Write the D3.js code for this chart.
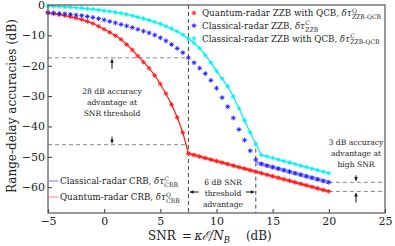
<!DOCTYPE html>
<html>
<head>
<meta charset="utf-8">
<script src="https://cdn.jsdelivr.net/npm/d3@7"></script>
<style>
  body { margin: 0; background: #fff; }
  text { font-family: "DejaVu Serif", "Liberation Serif", serif; fill: #222; }
</style>
</head>
<body>
<div id="chart"></div>
<script>
// SNR grid (dB)
const snr = [-5, -4.5, -4, -3.5, -3, -2.5, -2, -1.5, -1, -0.5, 0, 0.5, 1, 1.5, 2, 2.5, 3, 3.5, 4, 4.5,
  5, 5.5, 6, 6.5, 7, 7.5, 8, 8.5, 9, 9.5, 10, 10.5, 11, 11.5, 12, 12.5, 13, 13.5, 14, 14.5,
  15, 15.5, 16, 16.5, 17, 17.5, 18, 18.5, 19, 19.5, 20];

// Quantum-radar ZZB with QCB
const quantumZZB = [-2.6, -2.9, -3.2, -3.5, -3.9, -4.3, -4.8, -5.4, -6.1, -7.0, -8.0, -9.0, -10.1, -11.3, -13.0, -14.8, -16.8, -18.8, -20.8, -23.2,
  -26.0, -29.2, -32.8, -37.0, -42.0, -48.9, -49.4, -49.9, -50.4, -50.9, -51.4, -51.9, -52.4, -52.9, -53.4, -53.9, -54.4, -54.9, -55.4, -55.9,
  -56.4, -56.9, -57.4, -57.9, -58.4, -58.9, -59.4, -59.9, -60.4, -60.9, -61.4];

// Classical-radar ZZB
const classicalZZB = [-2.5, -2.6, -2.8, -2.9, -3.1, -3.3, -3.5, -3.8, -4.1, -4.5, -4.9, -5.4, -5.9, -6.4, -6.9, -7.4, -8.0, -8.6, -9.2, -9.9,
  -10.8, -11.8, -13.0, -14.3, -15.7, -17.4, -19.0, -20.8, -22.6, -24.8, -27.4, -30.5, -33.5, -37.2, -41.0, -44.5, -48.0, -51.0, -52.3, -52.9,
  -53.4, -53.9, -54.4, -54.9, -55.4, -55.9, -56.4, -56.9, -57.4, -57.9, -58.4];

// Classical-radar ZZB with QCB
const classicalZZBQCB = [-0.3, -0.4, -0.5, -0.6, -0.7, -0.9, -1.0, -1.2, -1.4, -1.6, -1.9, -2.1, -2.4, -2.7, -3.1, -3.5, -4.0, -4.5, -5.0, -5.6,
  -6.2, -7.0, -7.8, -8.7, -9.8, -11.1, -12.5, -14.2, -16.5, -19.0, -21.7, -24.2, -26.8, -30.2, -34.0, -38.0, -42.0, -45.8, -49.4, -49.9,
  -50.4, -50.9, -51.4, -51.9, -52.4, -52.9, -53.4, -53.9, -54.4, -54.9, -55.4];

// CRB lines
const crbSnrQ = [7.5, 20];
const crbQ = [-48.9, -61.4];
const crbSnrC = [13.5, 20];
const crbC = [-51.9, -58.4];

// annotation reference values
const thresholds = [7.5, 13.5];
const thresholdLevels = [-17.4, -46];
const highSnrLevels = [-58.4, -61.4];

const xTicks = [-5, 0, 5, 10, 15, 20, 25];
const yTicks = [0, -10, -20, -30, -40, -50, -60];

const W = 395, H = 246;
const svg = d3.select("#chart").append("svg")
    .attr("width", W)
    .attr("height", H);

const x = d3.scaleLinear().domain([-5, 25]).range([48, 385]);
const y = d3.scaleLinear().domain([-68.5, 0]).range([213, 5]);

const fmt = d => (d < 0 ? "\u2212" + Math.abs(d) : d);

// axes
svg.append("g")
    .attr("transform", "translate(0," + y(-68.5) + ")")
    .call(d3.axisBottom(x).tickValues(xTicks).tickSize(-4).tickPadding(4).tickFormat(fmt))
    .call(g => g.select(".domain").remove())
    .call(g => g.selectAll("line").attr("stroke", "#333"))
    .call(g => g.selectAll("text").style("font-size", "11px").style("font-family", "DejaVu Serif").attr("fill", "#222"));

svg.append("g")
    .attr("transform", "translate(" + x(-5) + ",0)")
    .call(d3.axisLeft(y).tickValues(yTicks).tickSize(-4).tickPadding(3).tickFormat(fmt))
    .call(g => g.select(".domain").remove())
    .call(g => g.selectAll("line").attr("stroke", "#333"))
    .call(g => g.selectAll("text").style("font-size", "11px").style("font-family", "DejaVu Serif").attr("fill", "#222"));

// dashed guide lines
const guides = svg.append("g").attr("fill", "none").attr("stroke-dasharray", "4,3");
guides.append("line")
    .attr("x1", x(thresholds[0])).attr("x2", x(thresholds[0]))
    .attr("y1", y(0)).attr("y2", y(-68.5))
    .attr("stroke", "#444").attr("stroke-width", 1);
guides.append("line")
    .attr("x1", x(thresholds[1])).attr("x2", x(thresholds[1]))
    .attr("y1", y(-45)).attr("y2", y(-68.5))
    .attr("stroke", "#444").attr("stroke-width", 1);
thresholdLevels.forEach(v => {
  guides.append("line")
      .attr("x1", x(-5)).attr("x2", x(thresholds[0]))
      .attr("y1", y(v)).attr("y2", y(v))
      .attr("stroke", "#888").attr("stroke-width", 1);
});
highSnrLevels.forEach(v => {
  guides.append("line")
      .attr("x1", x(20)).attr("x2", x(25))
      .attr("y1", y(v)).attr("y2", y(v))
      .attr("stroke", "#888").attr("stroke-width", 1);
});

// CRB bands
const line = d3.line().x(d => x(d[0])).y(d => y(d[1]));
svg.append("path")
    .datum(crbSnrC.map((s, i) => [s, crbC[i]]))
    .attr("d", line).attr("fill", "none")
    .attr("stroke", "#a3a3f5").attr("stroke-width", 4);
svg.append("path")
    .datum(crbSnrQ.map((s, i) => [s, crbQ[i]]))
    .attr("d", line).attr("fill", "none")
    .attr("stroke", "#ff8a8a").attr("stroke-width", 3);

// asterisk marker
const star = r => {
  const d = r * 0.7;
  return `M${-r},0H${r}M0,${-r}V${r}M${-d},${-d}L${d},${d}M${-d},${d}L${d},${-d}`;
};

function series(vals, color, withLine) {
  const pts = snr.map((s, i) => [s, vals[i]]);
  if (withLine) {
    svg.append("path").datum(pts).attr("d", line)
        .attr("fill", "none").attr("stroke", color).attr("stroke-width", 1.2);
  }
  svg.append("g").selectAll("path").data(pts).enter().append("path")
      .attr("transform", d => `translate(${x(d[0])},${y(d[1])})`)
      .attr("d", star(2.4))
      .attr("stroke", color).attr("stroke-width", 0.9).attr("fill", "none");
}
series(classicalZZBQCB, "#00f0f0", true);
series(quantumZZB, "#ff1a1a", true);
series(classicalZZB, "#1a1aff", false);

// frame
svg.append("rect")
    .attr("x", x(-5)).attr("y", y(0))
    .attr("width", x(25) - x(-5)).attr("height", y(-68.5) - y(0))
    .attr("fill", "none").attr("stroke", "#555").attr("stroke-width", 1.2);

// text with stacked super/subscript
function mathLabel(px, py, main, sup, sub, size) {
  const t = svg.append("text").attr("x", px).attr("y", py).style("font-size", size + "px").text(main);
  const dt = svg.append("text").attr("y", py).style("font-size", size + "px").style("font-style", "italic").text("\u03b4\u03c4");
  const w = t.node().getComputedTextLength() + size * 0.3;
  dt.attr("x", px + w);
  const x2 = px + w + dt.node().getComputedTextLength() + 0.3;
  svg.append("text").attr("x", x2).attr("y", py - size * 0.42).style("font-size", (size * 0.7) + "px").text(sup);
  svg.append("text").attr("x", x2).attr("y", py + size * 0.3).style("font-size", (size * 0.7) + "px").text(sub);
}

// top-right legend
const legendRows = [
  { color: "#ff1a1a", main: "Quantum-radar ZZB with QCB,", sup: "Q", sub: "ZZB-QCB" },
  { color: "#1a1aff", main: "Classical-radar ZZB,", sup: "C", sub: "ZZB" },
  { color: "#00f0f0", main: "Classical-radar ZZB with QCB,", sup: "C", sub: "ZZB-QCB" }
];
legendRows.forEach((r, i) => {
  const ly = 13 + i * 12.7;
  svg.append("path").attr("transform", `translate(194,${ly})`).attr("d", star(2.4))
      .attr("stroke", r.color).attr("stroke-width", 0.9).attr("fill", "none");
  mathLabel(202, ly + 3.2, r.main, r.sup, r.sub, 8.7);
});

// bottom-left legend
const crbLegend = [
  { color: "#a3a3f5", main: "Classical-radar CRB,", sup: "C", sub: "CRB" },
  { color: "#ffaaaa", main: "Quantum-radar CRB,", sup: "Q", sub: "CRB" }
];
crbLegend.forEach((r, i) => {
  const ly = 181 + i * 16;
  svg.append("line").attr("x1", 49).attr("x2", 58).attr("y1", ly).attr("y2", ly)
      .attr("stroke", r.color).attr("stroke-width", 1.5);
  mathLabel(60, ly + 3.2, r.main, r.sup, r.sub, 8.7);
});

// annotations
function block(cx, y0, lines) {
  lines.forEach((s, i) => {
    svg.append("text").attr("x", cx).attr("y", y0 + i * 11.2)
        .attr("text-anchor", "middle").style("font-size", "7.6px").attr("fill", "#333").text(s);
  });
}
block(112, 94, ["28 dB accuracy", "advantage at", "SNR threshold"]);
block(356, 145, ["3 dB accuracy", "advantage at", "high SNR"]);
block(223, 185, ["6 dB SNR", "threshold", "advantage"]);

function arrow(x1, y1, x2, y2) {
  const a = Math.atan2(y2 - y1, x2 - x1), h = 3.5, w = 1.8;
  svg.append("line").attr("x1", x1).attr("y1", y1).attr("x2", x2).attr("y2", y2)
      .attr("stroke", "#111").attr("stroke-width", 1);
  const bx = x2 - h * Math.cos(a), by = y2 - h * Math.sin(a);
  svg.append("path")
      .attr("d", `M${x2},${y2}L${bx - w * Math.sin(a)},${by + w * Math.cos(a)}L${bx + w * Math.sin(a)},${by - w * Math.cos(a)}Z`)
      .attr("fill", "#111");
}
arrow(112, y(thresholdLevels[0]) + 11, 112, y(thresholdLevels[0]) + 1.5);
arrow(112, y(thresholdLevels[1]) - 8, 112, y(thresholdLevels[1]) - 1.5);
arrow(x(thresholds[0]) + 10, 192, x(thresholds[0]) + 1.5, 192);
arrow(x(thresholds[1]) - 10, 192, x(thresholds[1]) - 1.5, 192);
arrow(356, y(highSnrLevels[0]) - 7, 356, y(highSnrLevels[0]) - 1.5);
arrow(356, y(highSnrLevels[1]) + 11, 356, y(highSnrLevels[1]) + 1.5);

// axis labels
svg.append("text")
    .attr("transform", "translate(16,106) rotate(-90)")
    .attr("text-anchor", "middle").style("font-size", "12px")
    .text("Range-delay accuracies  (dB)");

const xl = svg.append("text").attr("x", 148).attr("y", 240)
    .style("font-size", "12px");
xl.append("tspan").text("SNR \u2009=\u2009");
xl.append("tspan").style("font-style", "italic").text("\u03ba\u2130/N");
xl.append("tspan").style("font-style", "italic").style("font-size", "8.5px").attr("dy", 3).text("B");
xl.append("tspan").attr("dy", -3).text("\u2003 (dB)");
</script>
</body>
</html>
